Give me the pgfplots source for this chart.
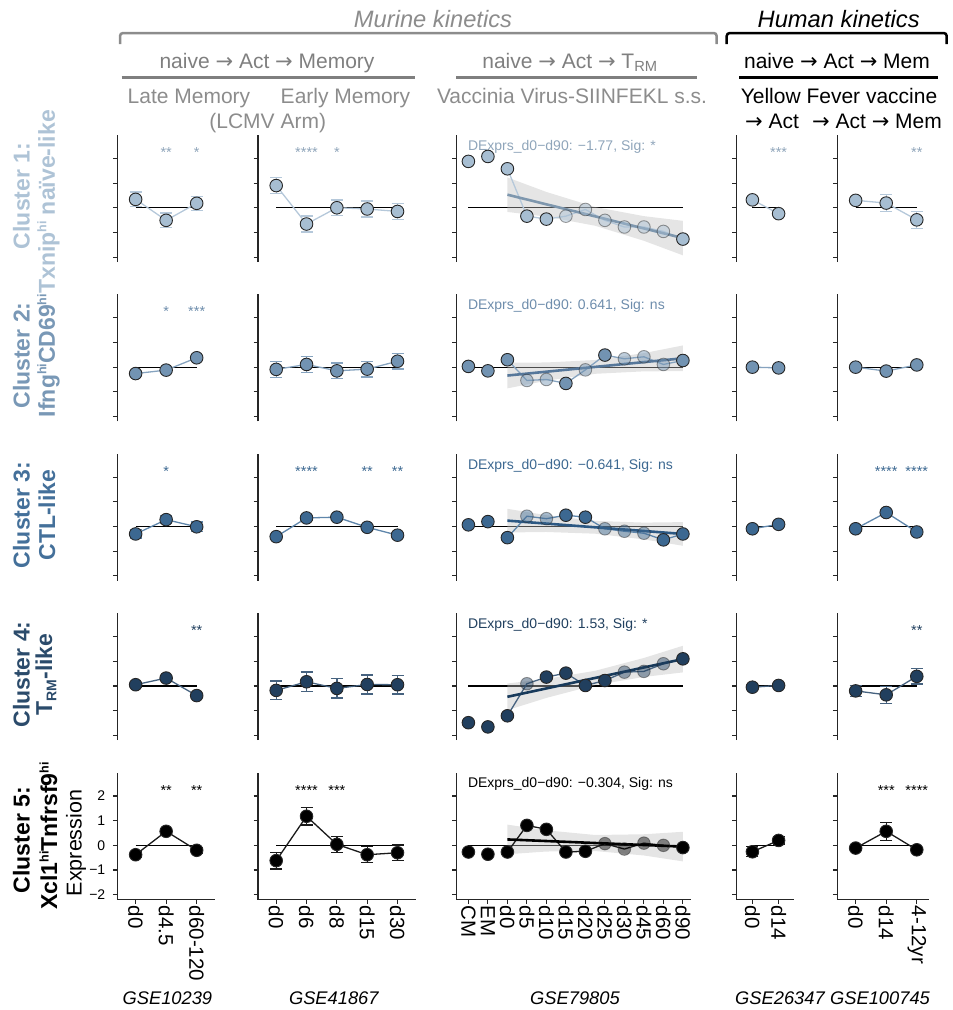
\documentclass[border=0pt]{standalone}
\usepackage{pgfplots}
\pgfplotsset{compat=1.18}
\usepackage{fontspec}
\setmainfont{Liberation Sans}
\newfontfamily\arrfont{DejaVu Sans}
\newcommand{\ra}{{\arrfont →}}

\newcommand{\fsz}[1]{\fontsize{#1pt}{#1pt}\selectfont}
\newcommand{\sups}[1]{\raisebox{0.7ex}{\fsz{12.5}#1}}
\newcommand{\subs}[1]{\raisebox{-0.35ex}{\fsz{14}#1}}

\definecolor{fA}{HTML}{A7BED2}\definecolor{lA}{HTML}{B5C8DA}\definecolor{rA}{HTML}{7E97AE}\definecolor{tA}{HTML}{8FA5BA}\definecolor{labA}{HTML}{AEC3D6}
\definecolor{fB}{HTML}{7293B2}\definecolor{lB}{HTML}{86A3BF}\definecolor{rB}{HTML}{56779A}\definecolor{tB}{HTML}{6E8DAC}\definecolor{labB}{HTML}{7998B6}
\definecolor{fC}{HTML}{3C6891}\definecolor{lC}{HTML}{5F86AB}\definecolor{rC}{HTML}{2C5883}\definecolor{tC}{HTML}{3C6891}\definecolor{labC}{HTML}{44709A}
\definecolor{fD}{HTML}{213F5E}\definecolor{lD}{HTML}{46627F}\definecolor{rD}{HTML}{183A5B}\definecolor{tD}{HTML}{21405F}\definecolor{labD}{HTML}{2B4B6B}
\definecolor{fE}{HTML}{000000}\definecolor{lE}{HTML}{1A1A1A}\definecolor{rE}{HTML}{000000}\definecolor{tE}{HTML}{000000}\definecolor{labE}{HTML}{000000}
\definecolor{hdrgray}{HTML}{8C8C8C}
\definecolor{subgray}{HTML}{7F7F7F}

\pgfplotsset{
  panel/.style={scale only axis, height=127pt, ymin=-2.2, ymax=2.95, clip=false,
    axis x line*=bottom, axis y line*=left,
    axis line style={-, line width=1.3pt, draw=black!85},
    ytick={-2,-1,0,1,2}, yticklabels={},
    tick align=outside, major tick length=4.5pt,
    every tick/.style={line width=1.1pt, black!85},
    xticklabel style={rotate=-90, anchor=west, font=\fsz{20.5}, inner sep=1.5pt}},
  C1/.style={width=97.7pt, xmin=0.4, xmax=3.6, xtick={1,2,3}, xticklabels={d0,d4.5,d60-120}},
  C2/.style={width=157.7pt, xmin=0.4, xmax=5.6, xtick={1,2,3,4,5}, xticklabels={d0,d6,d8,d15,d30}},
  C3/.style={width=234pt, xmin=0.4, xmax=12.4, xtick={1,2,3,4,5,6,7,8,9,10,11,12}, xticklabels={CM,EM,d0,d5,d10,d15,d20,d25,d30,d45,d60,d90}},
  C4/.style={width=57.6pt, xmin=0.4, xmax=2.6, xtick={1,2}, xticklabels={d0,d14}},
  C5/.style={width=91.7pt, xmin=0.4, xmax=3.4, xtick={1,2,3}, xticklabels={d0,d14,4-12yr}},
  hidex/.style={x axis line style={draw=none}, xtick=\empty},
}

\newcommand{\zl}[1]{\addplot[black, line width=1.2pt, mark=none] coordinates {(1,0) (#1,0)};}
\newcommand{\ser}[2]{%
 \addplot[color=l#1, line width=1.3pt, mark=none, error bars/.cd, y dir=both, y explicit, error bar style={line width=1.3pt, color=l#1}, error mark options={rotate=90, line width=1.3pt, mark size=6pt, color=l#1}] coordinates {#2};
 \addplot[only marks, mark=*, mark size=6.3pt, mark options={fill=f#1, draw=black!85, line width=0.9pt}] coordinates {#2};
}
\newcommand{\st}[3]{\node[font=\fsz{14.5}, text=t#1, anchor=base, inner sep=0pt] at (axis cs:#2,2.04) {#3};}
% #1 row letter, #2 ribbon, #3 connecting line, #4 solid pts, #5 faded pts, #6 trend, #7 text
\newcommand{\trm}[7]{%
 \zl{12}
 \addplot[fill=gray!50, draw=none, fill opacity=0.4] coordinates {#2};
 \addplot[color=l#1, line width=1.3pt] coordinates {#3};
 \addplot[only marks, mark=*, mark size=6.3pt, mark options={fill=f#1, draw=black!85, line width=0.9pt, opacity=0.45}] coordinates {#5};
 \addplot[only marks, mark=*, mark size=6.3pt, mark options={fill=f#1, draw=black!85, line width=0.9pt}] coordinates {#4};
 \addplot[color=r#1, line width=2.6pt] coordinates {#6};
 \node[font=\fsz{14}, text=t#1, anchor=base west, inner sep=0pt] at (axis cs:0.97,2.33) {#7};
}

\begin{document}
\begin{tikzpicture}
\path[use as bounding box] (0,0) rectangle (953pt,-1010pt);

% ---------- headers ----------
\node[font=\fsz{23.7}\itshape, text=hdrgray, anchor=base] at (433pt,-27pt) {Murine kinetics};
\draw[hdrgray, line width=2.5pt, rounded corners=3pt] (120pt,-44pt) -- (120pt,-33pt) -- (716.7pt,-33pt) -- (716.7pt,-44pt);
\node[font=\fsz{23.7}\itshape, text=black, anchor=base] at (838.7pt,-27pt) {Human kinetics};
\draw[black, line width=2.5pt, rounded corners=3pt] (726.7pt,-44pt) -- (726.7pt,-33pt) -- (946.7pt,-33pt) -- (946.7pt,-44pt);

\node[font=\fsz{21}, text=subgray, anchor=base] at (267pt,-68.3pt) {naive \ra{} Act \ra{} Memory};
\draw[subgray, line width=3pt] (121.7pt,-77.3pt) -- (415pt,-77.3pt);
\node[font=\fsz{21}, text=subgray, anchor=base] at (570pt,-68.3pt) {naive \ra{} Act \ra{} T\textsubscript{RM}};
\draw[subgray, line width=3pt] (456pt,-77.3pt) -- (697pt,-77.3pt);
\node[font=\fsz{21}, text=black, anchor=base] at (837pt,-68.3pt) {naive \ra{} Act \ra{} Mem};
\draw[black, line width=3pt] (739pt,-77.3pt) -- (938pt,-77.3pt);

\node[font=\fsz{21}, text=hdrgray, anchor=base] at (189pt,-103.3pt) {Late Memory};
\node[font=\fsz{21}, text=hdrgray, anchor=base] at (345.5pt,-103.3pt) {Early Memory};
\node[font=\fsz{21}, text=hdrgray, anchor=base] at (267.7pt,-128.3pt) {(LCMV Arm)};
\node[font=\fsz{21}, text=hdrgray, anchor=base] at (572pt,-103.3pt) {Vaccinia Virus-SIINFEKL s.s.};
\node[font=\fsz{21}, text=black, anchor=base] at (839pt,-103.3pt) {Yellow Fever vaccine};
\node[font=\fsz{21}, text=black, anchor=base] at (772pt,-128.3pt) {\ra{} Act};
\node[font=\fsz{21}, text=black, anchor=base] at (877pt,-128.3pt) {\ra{} Act \ra{} Mem};

% ---------- row labels ----------
\node[rotate=90, font=\bfseries\fsz{23}, text=labA] at (21.5pt,-196pt) {Cluster 1:};
\node[rotate=90, font=\bfseries\fsz{23}, text=labA] at (48.5pt,-202pt) {Txnip\sups{hi} naïve-like};
\node[rotate=90, font=\bfseries\fsz{23}, text=labB] at (21.5pt,-355.5pt) {Cluster 2:};
\node[rotate=90, font=\bfseries\fsz{23}, text=labB] at (48.5pt,-355.5pt) {Ifng\sups{hi}CD69\sups{hi}};
\node[rotate=90, font=\bfseries\fsz{23}, text=labC] at (21.5pt,-515pt) {Cluster 3:};
\node[rotate=90, font=\bfseries\fsz{23}, text=labC] at (47pt,-515pt) {CTL-like};
\node[rotate=90, font=\bfseries\fsz{23}, text=labD] at (21.5pt,-674.5pt) {Cluster 4:};
\node[rotate=90, font=\bfseries\fsz{23}, text=labD] at (46pt,-674.5pt) {T\subs{RM}-like};
\node[rotate=90, font=\bfseries\fsz{23}, text=labE] at (21.5pt,-840pt) {Cluster 5:};
\node[rotate=90, font=\bfseries\fsz{23}, text=labE] at (48.5pt,-836pt) {Xcl1\sups{hi}Tnfrsf9\sups{hi}};
\node[rotate=90, font=\fsz{21.5}, text=black] at (76pt,-843pt) {Expression};

% ---------- GSE labels ----------
\node[font=\fsz{18.3}\itshape, anchor=base] at (167.4pt,-1004pt) {GSE10239};
\node[font=\fsz{18.3}\itshape, anchor=base] at (333.8pt,-1004pt) {GSE41867};
\node[font=\fsz{18.3}\itshape, anchor=base] at (575pt,-1004pt) {GSE79805};
\node[font=\fsz{18.3}\itshape, anchor=base] at (780pt,-1004pt) {GSE26347};
\node[font=\fsz{18.3}\itshape, anchor=base] at (880pt,-1004pt) {GSE100745};

% ================= ROW 1 =================
\begin{axis}[panel, C1, hidex, at={(117.3pt,-262pt)}, anchor=south west]
\zl{3}
\ser{A}{(1,0.34) +- (0,0.30) (2,-0.51) +- (0,0.30) (3,0.18) +- (0,0.29)}
\st{A}{2}{**}\st{A}{3}{*}
\end{axis}
\begin{axis}[panel, C2, hidex, at={(258pt,-262pt)}, anchor=south west]
\zl{5}
\ser{A}{(1,0.90) +- (0,0.32) (2,-0.66) +- (0,0.32) (3,0.00) +- (0,0.32) (4,-0.05) +- (0,0.32) (5,-0.15) +- (0,0.33)}
\st{A}{2}{****}\st{A}{3}{*}
\end{axis}
\begin{axis}[panel, C3, hidex, at={(456.7pt,-262pt)}, anchor=south west]
\trm{A}{(3,1.23) (5,0.64) (7.5,0.03) (10,-0.34) (12,-0.53) (12,-1.93) (10,-1.34) (7.5,-0.73) (5,-0.36) (3,-0.17)}
{(3,1.58) (4,-0.34) (5,-0.46) (6,-0.34) (7,-0.07) (8,-0.51) (9,-0.78) (10,-0.78) (11,-0.96) (12,-1.27)}
{(1,1.88) (2,2.08) (3,1.58) (4,-0.34) (5,-0.46) (12,-1.27)}
{(6,-0.34) (7,-0.07) (8,-0.51) (9,-0.78) (10,-0.78) (11,-0.96)}
{(3,0.53) (12,-1.23)}
{DExprs\_d0−d90: −1.77, Sig: *}
\end{axis}
\begin{axis}[panel, C4, hidex, at={(736.7pt,-262pt)}, anchor=south west]
\zl{2}
\ser{A}{(1,0.32) +- (0,0.04) (2,-0.24) +- (0,0.04)}
\st{A}{2}{***}
\end{axis}
\begin{axis}[panel, C5, hidex, at={(837.3pt,-262pt)}, anchor=south west]
\zl{3}
\ser{A}{(1,0.30) +- (0,0.04) (2,0.19) +- (0,0.34) (3,-0.49) +- (0,0.34)}
\st{A}{3}{**}
\end{axis}

% ================= ROW 2 =================
\begin{axis}[panel, C1, hidex, at={(117.3pt,-421.4pt)}, anchor=south west]
\zl{3}
\ser{B}{(1,-0.26) +- (0,0.04) (2,-0.12) +- (0,0.04) (3,0.38) +- (0,0.04)}
\st{B}{2}{*}\st{B}{3}{***}
\end{axis}
\begin{axis}[panel, C2, hidex, at={(258pt,-421.4pt)}, anchor=south west]
\zl{5}
\ser{B}{(1,-0.09) +- (0,0.32) (2,0.11) +- (0,0.32) (3,-0.15) +- (0,0.32) (4,-0.08) +- (0,0.32) (5,0.24) +- (0,0.32)}
\end{axis}
\begin{axis}[panel, C3, hidex, at={(456.7pt,-421.4pt)}, anchor=south west]
\trm{B}{(3,0.18) (5,0.19) (7.5,0.29) (10,0.57) (12,0.88) (12,-0.16) (10,-0.17) (7.5,-0.27) (5,-0.55) (3,-0.86)}
{(3,0.30) (4,-0.54) (5,-0.50) (6,-0.66) (7,-0.11) (8,0.49) (9,0.34) (10,0.42) (11,0.11) (12,0.27)}
{(1,0.03) (2,-0.15) (3,0.30) (6,-0.66) (8,0.49) (12,0.27)}
{(4,-0.54) (5,-0.50) (7,-0.11) (9,0.34) (10,0.42) (11,0.11)}
{(3,-0.34) (12,0.36)}
{DExprs\_d0−d90: 0.641, Sig: ns}
\end{axis}
\begin{axis}[panel, C4, hidex, at={(736.7pt,-421.4pt)}, anchor=south west]
\zl{2}
\ser{B}{(1,0.00) +- (0,0.03) (2,-0.03) +- (0,0.03)}
\end{axis}
\begin{axis}[panel, C5, hidex, at={(837.3pt,-421.4pt)}, anchor=south west]
\zl{3}
\ser{B}{(1,0.00) +- (0,0.10) (2,-0.16) +- (0,0.03) (3,0.09) +- (0,0.03)}
\end{axis}

% ================= ROW 3 =================
\begin{axis}[panel, C1, hidex, at={(117.3pt,-580.8pt)}, anchor=south west]
\zl{3}
\ser{C}{(1,-0.30) +- (0,0.17) (2,0.28) +- (0,0.17) (3,-0.01) +- (0,0.20)}
\st{C}{2}{*}
\end{axis}
\begin{axis}[panel, C2, hidex, at={(258pt,-580.8pt)}, anchor=south west]
\zl{5}
\ser{C}{(1,-0.41) +- (0,0.05) (2,0.35) +- (0,0.05) (3,0.38) +- (0,0.05) (4,-0.03) +- (0,0.05) (5,-0.35) +- (0,0.05)}
\st{C}{2}{****}\st{C}{4}{**}\st{C}{5}{**}
\end{axis}
\begin{axis}[panel, C3, hidex, at={(456.7pt,-580.8pt)}, anchor=south west]
\trm{C}{(3,0.72) (5,0.46) (7.5,0.23) (10,0.16) (12,0.18) (12,-0.78) (10,-0.52) (7.5,-0.29) (5,-0.22) (3,-0.24)}
{(3,-0.45) (4,0.42) (5,0.32) (6,0.46) (7,0.38) (8,-0.09) (9,-0.19) (10,-0.27) (11,-0.54) (12,-0.30)}
{(1,0.07) (2,0.20) (3,-0.45) (6,0.46) (7,0.38) (11,-0.54) (12,-0.30)}
{(4,0.42) (5,0.32) (8,-0.09) (9,-0.19) (10,-0.27)}
{(3,0.24) (12,-0.30)}
{DExprs\_d0−d90: −0.641, Sig: ns}
\end{axis}
\begin{axis}[panel, C4, hidex, at={(736.7pt,-580.8pt)}, anchor=south west]
\zl{2}
\ser{C}{(1,-0.09) +- (0,0.03) (2,0.09) +- (0,0.03)}
\end{axis}
\begin{axis}[panel, C5, hidex, at={(837.3pt,-580.8pt)}, anchor=south west]
\zl{3}
\ser{C}{(1,-0.09) +- (0,0.03) (2,0.57) +- (0,0.03) (3,-0.22) +- (0,0.03)}
\st{C}{2}{****}\st{C}{3}{****}
\end{axis}

% ================= ROW 4 =================
\begin{axis}[panel, C1, hidex, at={(117.3pt,-740.2pt)}, anchor=south west]
\zl{3}
\ser{D}{(1,0.05) +- (0,0.08) (2,0.32) +- (0,0.08) (3,-0.39) +- (0,0.08)}
\st{D}{3}{**}
\end{axis}
\begin{axis}[panel, C2, hidex, at={(258pt,-740.2pt)}, anchor=south west]
\zl{5}
\ser{D}{(1,-0.18) +- (0,0.38) (2,0.17) +- (0,0.39) (3,-0.10) +- (0,0.39) (4,0.06) +- (0,0.39) (5,0.05) +- (0,0.38)}
\end{axis}
\begin{axis}[panel, C3, hidex, at={(456.7pt,-740.2pt)}, anchor=south west]
\trm{D}{(3,0.10) (5,0.285) (7.5,0.615) (10,1.135) (12,1.63) (12,0.55) (10,0.365) (7.5,0.035) (5,-0.485) (3,-0.98)}
{(3,-1.21) (4,0.09) (5,0.36) (6,0.52) (7,0.02) (8,0.22) (9,0.56) (10,0.59) (11,0.90) (12,1.10)}
{(1,-1.49) (2,-1.66) (3,-1.21) (5,0.36) (6,0.52) (7,0.02) (8,0.22) (12,1.10)}
{(4,0.09) (9,0.56) (10,0.59) (11,0.90)}
{(3,-0.44) (12,1.09)}
{DExprs\_d0−d90: 1.53, Sig: *}
\end{axis}
\begin{axis}[panel, C4, hidex, at={(736.7pt,-740.2pt)}, anchor=south west]
\zl{2}
\ser{D}{(1,-0.05) +- (0,0.03) (2,0.02) +- (0,0.03)}
\end{axis}
\begin{axis}[panel, C5, hidex, at={(837.3pt,-740.2pt)}, anchor=south west]
\zl{3}
\ser{D}{(1,-0.20) +- (0,0.22) (2,-0.36) +- (0,0.35) (3,0.39) +- (0,0.31)}
\st{D}{3}{**}
\end{axis}

% ================= ROW 5 =================
\begin{axis}[panel, C1, at={(117.3pt,-899.6pt)}, anchor=south west,
  yticklabels={−2,−1,0,1,2}, yticklabel style={font=\fsz{14}, xshift=-4pt}]
\zl{3}
\ser{E}{(1,-0.38) +- (0,0.12) (2,0.57) +- (0,0.12) (3,-0.20) +- (0,0.12)}
\st{E}{2}{**}\st{E}{3}{**}
\end{axis}
\begin{axis}[panel, C2, at={(258pt,-899.6pt)}, anchor=south west]
\zl{5}
\ser{E}{(1,-0.62) +- (0,0.34) (2,1.18) +- (0,0.35) (3,0.04) +- (0,0.33) (4,-0.38) +- (0,0.32) (5,-0.30) +- (0,0.32)}
\st{E}{2}{****}\st{E}{3}{***}
\end{axis}
\begin{axis}[panel, C3, at={(456.7pt,-899.6pt)}, anchor=south west]
\trm{E}{(3,0.84) (5,0.61) (7.5,0.42) (10,0.45) (12,0.55) (12,-0.65) (10,-0.41) (7.5,-0.23) (5,-0.25) (3,-0.36)}
{(3,-0.27) (4,0.81) (5,0.65) (6,-0.27) (7,-0.24) (8,0.07) (9,-0.15) (10,0.09) (11,0.00) (12,-0.09)}
{(1,-0.27) (2,-0.36) (3,-0.27) (4,0.81) (5,0.65) (6,-0.27) (7,-0.24) (12,-0.09)}
{(8,0.07) (9,-0.15) (10,0.09) (11,0.00)}
{(3,0.24) (12,-0.05)}
{DExprs\_d0−d90: −0.304, Sig: ns}
\end{axis}
\begin{axis}[panel, C4, at={(736.7pt,-899.6pt)}, anchor=south west]
\zl{2}
\ser{E}{(1,-0.26) +- (0,0.20) (2,0.20) +- (0,0.15)}
\end{axis}
\begin{axis}[panel, C5, at={(837.3pt,-899.6pt)}, anchor=south west]
\zl{3}
\ser{E}{(1,-0.11) +- (0,0.04) (2,0.57) +- (0,0.36) (3,-0.18) +- (0,0.04)}
\st{E}{2}{***}\st{E}{3}{****}
\end{axis}
\end{tikzpicture}
\end{document}
